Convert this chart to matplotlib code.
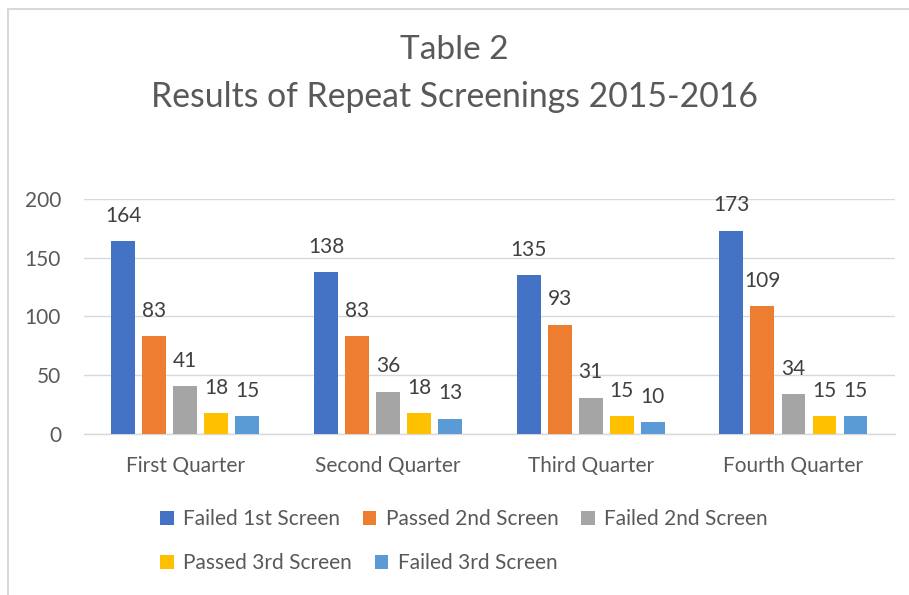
import matplotlib
matplotlib.use('Agg')
import matplotlib.pyplot as plt
from matplotlib.patches import Patch
from matplotlib.lines import Line2D
import numpy as np

# chart data
quarters = ["First Quarter", "Second Quarter", "Third Quarter", "Fourth Quarter"]
series_names = ["Failed 1st Screen", "Passed 2nd Screen", "Failed 2nd Screen",
                "Passed 3rd Screen", "Failed 3rd Screen"]
failed_1st = [164, 138, 135, 173]
passed_2nd = [83, 83, 93, 109]
failed_2nd = [41, 36, 31, 34]
passed_3rd = [18, 18, 15, 15]
failed_3rd = [15, 13, 10, 15]
y_ticks = [0, 50, 100, 150, 200]

series_values = [failed_1st, passed_2nd, failed_2nd, passed_3rd, failed_3rd]
colors = ["#4472C4", "#ED7D31", "#A5A5A5", "#FFC000", "#5B9BD5"]

plt.rcParams['font.family'] = ['Lato', 'DejaVu Sans']
text_col = "#595959"
fs = 15

fig = plt.figure(figsize=(9.09, 5.95), dpi=100)
ax = fig.add_axes([0.0924, 0.2706, 0.892, 0.395])

x = np.arange(len(quarters))
pitch = 0.153
width = 0.118
for i, (name, vals, c) in enumerate(zip(series_names, series_values, colors)):
    pos = x + (i - 2) * pitch
    bars = ax.bar(pos, vals, width=width, color=c, zorder=3, label=name)
    # value label above each bar
    for b, v in zip(bars, vals):
        ax.annotate(str(v), (b.get_x() + b.get_width() / 2, v), xytext=(0, 11),
                    textcoords='offset points', ha='center', va='bottom',
                    fontsize=fs, color="#404040")

ax.set_xlim(-0.5, len(quarters) - 0.5)
ax.set_ylim(0, 200)
ax.set_yticks(y_ticks)
ax.set_xticks(x)
ax.set_xticklabels(quarters)
ax.grid(axis='y', color='#d9d9d9', linewidth=1, zorder=0)
for s in ['top', 'right', 'left']:
    ax.spines[s].set_visible(False)
ax.spines['bottom'].set_color('#d9d9d9')
ax.spines['bottom'].set_linewidth(1)
ax.tick_params(left=False, bottom=False, labelsize=fs, colors=text_col)
ax.tick_params(axis='y', pad=13)
ax.tick_params(axis='x', pad=12)

fig.text(0.5, 1 - 50 / 595, "Table 2", ha='center', va='center', fontsize=24, color=text_col)
fig.text(0.5, 1 - 97 / 595, "Results of Repeat Screenings 2015-2016", ha='center', va='center',
         fontsize=24.3, color=text_col)

# legend in two rows, left aligned like the original
proxies = [Patch(facecolor=c, edgecolor='none') for c in colors]
leg_kw = dict(frameon=False, fontsize=fs, handlelength=0.65, handleheight=0.65,
              handletextpad=0.45, columnspacing=1.1, labelcolor=text_col,
              borderaxespad=0, borderpad=0)
fig.legend(proxies[:3], series_names[:3], ncol=3, loc='center left',
           bbox_to_anchor=(160 / 909, 1 - 519 / 595), **leg_kw)
fig.legend(proxies[3:], series_names[3:], ncol=2, loc='center left',
           bbox_to_anchor=(160 / 909, 1 - 563 / 595), **leg_kw)

# chart border (left and top edges visible)
fig.add_artist(Line2D([8 / 909, 8 / 909], [0, 1 - 9 / 595], transform=fig.transFigure,
                      color='#d9d9d9', linewidth=1.5))
fig.add_artist(Line2D([8 / 909, 1], [1 - 9 / 595, 1 - 9 / 595], transform=fig.transFigure,
                      color='#d9d9d9', linewidth=1.5))

fig.savefig("out.png", dpi=100)
